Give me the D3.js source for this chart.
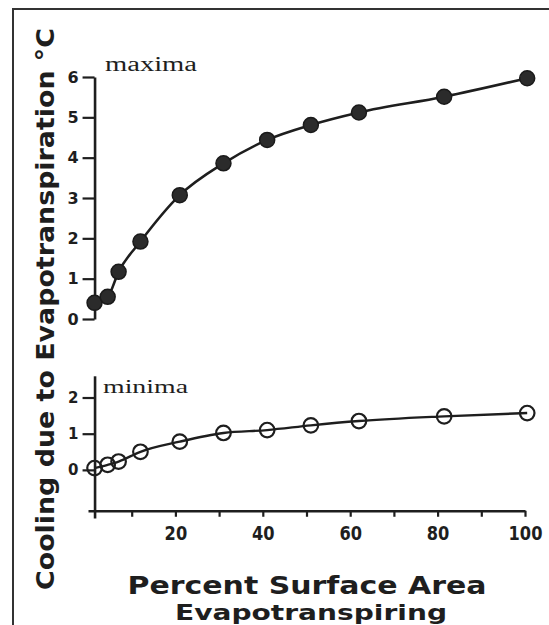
<!DOCTYPE html>
<html>
<head>
<meta charset="utf-8">
<script src="https://cdn.jsdelivr.net/npm/d3@7"></script>
<style>
  html, body { margin: 0; padding: 0; background: #fff; }
  svg { display: block; }
  text { fill: #1e1e1e; }
</style>
</head>
<body>
<script>
// ---- data ----
const percentArea = [1.5, 4.5, 7, 12, 21, 31, 41, 51, 62, 81.5, 100.5];
const maximaCooling = [0.4, 0.55, 1.17, 1.92, 3.07, 3.86, 4.44, 4.81, 5.12, 5.51, 5.97];
const minimaCooling = [0.05, 0.14, 0.23, 0.5, 0.78, 1.02, 1.1, 1.23, 1.35, 1.48, 1.57];
const maxTicks = [0, 1, 2, 3, 4, 5, 6];
const minTicks = [0, 1, 2];
const xTicks = [10, 20, 30, 40, 50, 60, 70, 80, 90, 100];
const xTickLabels = [20, 40, 60, 80, 100];
const yTitle = "Cooling due to Evapotranspiration °C";
const xTitle1 = "Percent  Surface Area";
const xTitle2 = "Evapotranspiring";
const panelLabels = ["maxima", "minima"];

const W = 549, H = 625;
const ink = "#1e1e1e";
const svg = d3.select("body").append("svg").attr("width", W).attr("height", H);

// frame (scan border)
svg.append("path").attr("d", `M13,${H} L13,9 L${W},9`)
  .attr("fill", "none").attr("stroke", "#333").attr("stroke-width", 2);

const x = d3.scaleLinear().domain([0, 100]).range([88, 525]);
const yTop = d3.scaleLinear().domain([0, 6]).range([319, 77]);
const yBot = d3.scaleLinear().domain([-1.33, 2.6]).range([518, 375.8]);
const axisX = x(percentArea[0]);

const boldFont = "'DejaVu Sans', Verdana, sans-serif";
const fmt = d3.format("d");

// ---- top panel axis ----
const gTop = svg.append("g").attr("transform", `translate(${axisX},0)`)
  .call(d3.axisLeft(yTop).tickValues(maxTicks).tickFormat(fmt).tickSize(12).tickPadding(4).tickSizeOuter(0));
// ---- bottom panel axes ----
const gBotY = svg.append("g").attr("transform", `translate(${axisX},0)`)
  .call(d3.axisLeft(yBot).tickValues(minTicks).tickFormat(fmt).tickSize(12).tickPadding(4).tickSizeOuter(0));
const gBotX = svg.append("g").attr("transform", `translate(0,${yBot(-1.13)})`)
  .call(d3.axisBottom(x).tickValues(xTicks).tickSize(6).tickPadding(9).tickSizeOuter(0)
    .tickFormat(d => xTickLabels.includes(d) ? fmt(d) : ""));

[gTop, gBotY, gBotX].forEach(g => {
  g.select(".domain").attr("stroke", ink).attr("stroke-width", 2.6);
  g.selectAll(".tick line").attr("stroke", ink).attr("stroke-width", 2.2);
  g.selectAll(".tick text").attr("fill", ink).attr("font-family", boldFont).attr("font-weight", "bold");
});
gTop.selectAll(".tick text").attr("font-size", 16);
gBotY.selectAll(".tick text").attr("font-size", 15);
gBotX.selectAll(".tick text").attr("font-size", 20)
  .attr("dy", "0.71em")
  .attr("textLength", function(){ const t = this.textContent; return t ? t.length * 11.3 : null; })
  .attr("lengthAdjust", "spacingAndGlyphs");

// ---- lines & markers ----
const lineTop = d3.line().x((d, i) => x(percentArea[i])).y(d => yTop(d)).curve(d3.curveMonotoneX);
const lineBot = d3.line().x((d, i) => x(percentArea[i])).y(d => yBot(d)).curve(d3.curveMonotoneX);

svg.append("path").datum(maximaCooling).attr("d", lineTop)
  .attr("fill", "none").attr("stroke", ink).attr("stroke-width", 2.6);
svg.append("path").datum(minimaCooling).attr("d", lineBot)
  .attr("fill", "none").attr("stroke", ink).attr("stroke-width", 2.4);

svg.append("g").selectAll("circle").data(maximaCooling).join("circle")
  .attr("cx", (d, i) => x(percentArea[i])).attr("cy", d => yTop(d)).attr("r", 7.5)
  .attr("fill", "#2b2b2b").attr("stroke", "#1a1a1a").attr("stroke-width", 1.5);
svg.append("g").selectAll("circle").data(minimaCooling).join("circle")
  .attr("cx", (d, i) => x(percentArea[i])).attr("cy", d => yBot(d)).attr("r", 7.3)
  .attr("fill", "none").attr("stroke", ink).attr("stroke-width", 2.2);

// ---- panel labels ----
svg.append("text").attr("x", 105).attr("y", 71).text(panelLabels[0])
  .attr("font-family", "'Liberation Serif', 'Times New Roman', serif").attr("font-size", 20)
  .attr("textLength", 92).attr("lengthAdjust", "spacingAndGlyphs");
svg.append("text").attr("x", 103).attr("y", 393).text(panelLabels[1])
  .attr("font-family", "'Liberation Serif', 'Times New Roman', serif").attr("font-size", 19)
  .attr("textLength", 85).attr("lengthAdjust", "spacingAndGlyphs");

// ---- axis titles ----
svg.append("text").attr("transform", "translate(54,309) rotate(-90)")
  .attr("text-anchor", "middle").text(yTitle)
  .attr("font-family", boldFont).attr("font-weight", "bold").attr("font-size", 25)
  .attr("textLength", 562).attr("lengthAdjust", "spacingAndGlyphs");
svg.append("text").attr("x", 307).attr("y", 594).attr("text-anchor", "middle").text(xTitle1)
  .attr("font-family", boldFont).attr("font-weight", "bold").attr("font-size", 25)
  .attr("textLength", 359).attr("lengthAdjust", "spacingAndGlyphs");
svg.append("text").attr("x", 311).attr("y", 620).attr("text-anchor", "middle").text(xTitle2)
  .attr("font-family", boldFont).attr("font-weight", "bold").attr("font-size", 22)
  .attr("textLength", 272).attr("lengthAdjust", "spacingAndGlyphs");
</script>
</body>
</html>
